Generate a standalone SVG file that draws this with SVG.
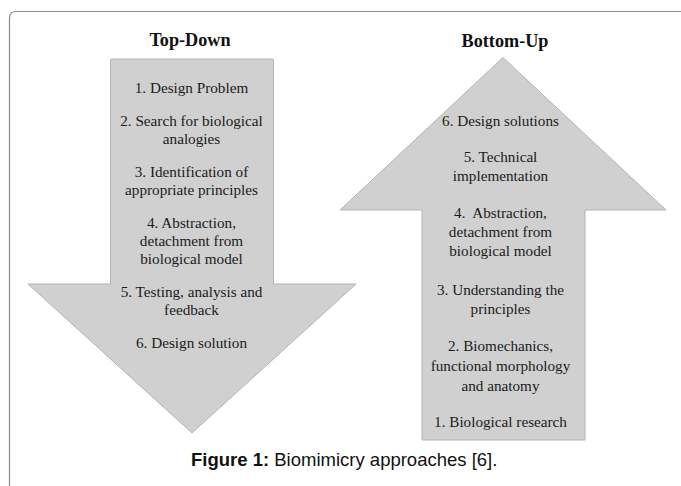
<svg xmlns="http://www.w3.org/2000/svg" width="681" height="486" viewBox="0 0 681 486">
<style>
.arrow{fill:#d0d0d0;stroke:#b4b4b4;stroke-width:1}
.t{font-family:"Liberation Serif","Times New Roman",serif;font-size:15.2px;fill:#1a1a1a;text-anchor:middle}
.h{font-family:"Liberation Serif","Times New Roman",serif;font-size:18.2px;font-weight:bold;fill:#111;text-anchor:middle}
.cap{font-family:"Liberation Sans",Arial,sans-serif;font-size:18.5px;fill:#111}
</style>
<rect x="0" y="0" width="681" height="486" fill="#fff"/>
<path d="M9.5,486 V18 Q9.5,11.5 16,11.5 H681" fill="none" stroke="#8c8c8c" stroke-width="1.2"/>
<g id="top-down">
<text class="h" x="190" y="46">Top-Down</text>
<polygon class="arrow" points="110.5,59 273.5,59 273.5,284 356,284 192,433 28,284 110.5,284"/>
<text class="t" x="191.5" y="93">1. Design Problem</text>
<text class="t" x="191.5" y="126">2. Search for biological</text>
<text class="t" x="191.5" y="144">analogies</text>
<text class="t" x="191.5" y="177">3. Identification of</text>
<text class="t" x="191.5" y="195">appropriate principles</text>
<text class="t" x="191.5" y="228">4. Abstraction,</text>
<text class="t" x="191.5" y="246">detachment from</text>
<text class="t" x="191.5" y="264">biological model</text>
<text class="t" x="191.5" y="297">5. Testing, analysis and</text>
<text class="t" x="191.5" y="315">feedback</text>
<text class="t" x="191.5" y="348">6. Design solution</text>
</g>
<g id="bottom-up">
<text class="h" x="505" y="46.5">Bottom-Up</text>
<polygon class="arrow" points="503,57.5 666,210 585,210 585,440 422,440 422,210 340,210"/>
<text class="t" x="500.5" y="126">6. Design solutions</text>
<text class="t" x="500.5" y="162">5. Technical</text>
<text class="t" x="500.5" y="181">implementation</text>
<text class="t" x="500.5" y="218">4.&#160; Abstraction,</text>
<text class="t" x="500.5" y="237">detachment from</text>
<text class="t" x="500.5" y="256">biological model</text>
<text class="t" x="500.5" y="295">3. Understanding the</text>
<text class="t" x="500.5" y="314">principles</text>
<text class="t" x="500.5" y="351">2. Biomechanics,</text>
<text class="t" x="500.5" y="371">functional morphology</text>
<text class="t" x="500.5" y="391">and anatomy</text>
<text class="t" x="500.5" y="427">1. Biological research</text>
</g>
<g id="caption">
<text class="cap" x="191" y="466"><tspan font-weight="bold">Figure 1:</tspan> Biomimicry approaches [6].</text>
</g>
</svg>
